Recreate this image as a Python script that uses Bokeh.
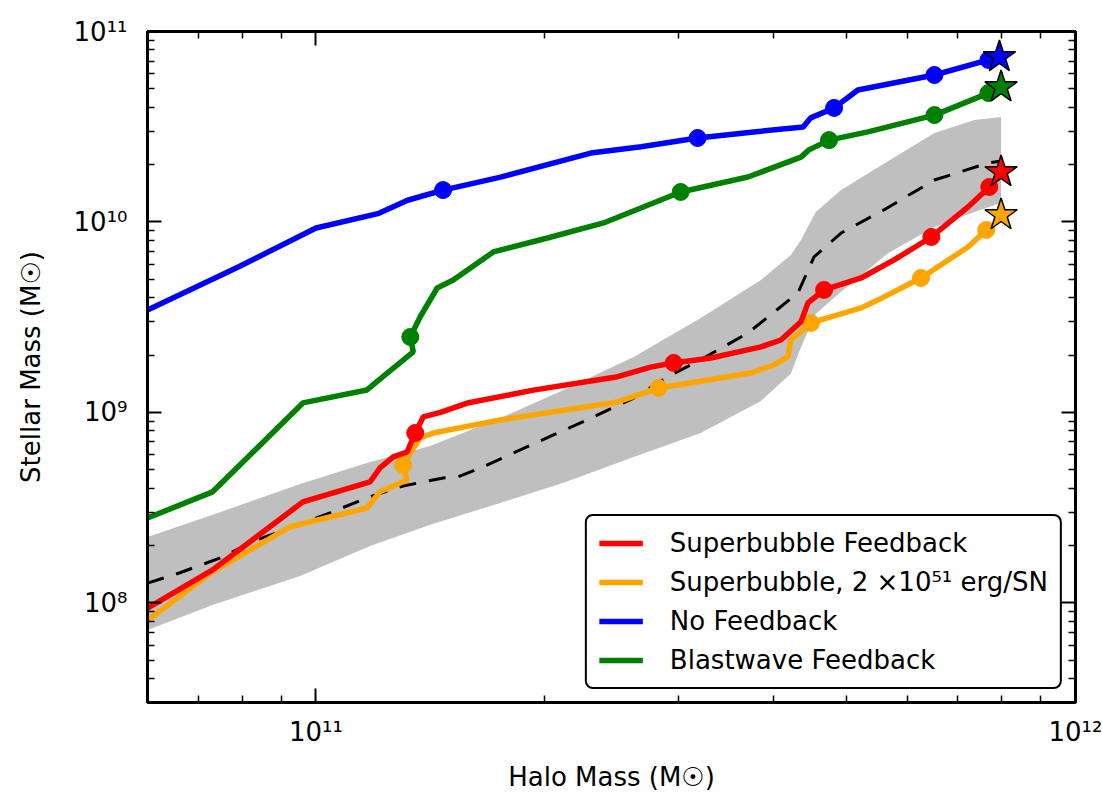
from bokeh.plotting import figure
from bokeh.models import Range1d, FixedTicker, LogAxis, Legend, LegendItem
from bokeh.embed import file_html
from bokeh.resources import INLINE

# ---------------- data ----------------
x_tick_values = [1e11, 1e12]
x_tick_labels = ["10\u00b9\u00b9", "10\u00b9\u00b2"]
y_tick_values = [1e8, 1e9, 1e10, 1e11]
y_tick_labels = ["10\u2078", "10\u2079", "10\u00b9\u2070", "10\u00b9\u00b9"]

halo_blue = [6.0e10, 7.9e10, 1.0e11, 1.21e11, 1.32e11, 1.47e11, 1.75e11, 2.3e11, 2.68e11,
             3.18e11, 3.77e11, 4.38e11, 4.48e11, 4.81e11, 5.17e11, 6.52e11, 7.68e11]
stellar_blue = [3.45e9, 5.8e9, 9.3e9, 1.11e10, 1.3e10, 1.47e10, 1.72e10, 2.3e10, 2.48e10,
                2.76e10, 2.97e10, 3.15e10, 3.52e10, 3.97e10, 4.93e10, 5.91e10, 7.09e10]
marks_blue = [5, 9, 13, 15, 16]
star_blue = (7.94e11, 7.35e10)

halo_green = [6.0e10, 7.31e10, 9.61e10, 1.167e11, 1.241e11, 1.343e11, 1.331e11, 1.371e11,
              1.444e11, 1.516e11, 1.712e11, 2.017e11, 2.391e11, 3.021e11, 3.704e11, 4.35e11,
              4.457e11, 4.737e11, 5.33e11, 6.52e11, 7.68e11]
stellar_green = [2.79e8, 3.83e8, 1.122e9, 1.312e9, 1.61e9, 2.08e9, 2.49e9, 3.17e9, 4.5e9,
                 4.96e9, 6.96e9, 8.24e9, 9.88e9, 1.437e10, 1.722e10, 2.19e10, 2.39e10,
                 2.69e10, 2.97e10, 3.64e10, 4.75e10]
marks_green = [6, 13, 17, 19, 20]
star_green = (7.98e11, 5.11e10)

halo_red = [6.0e10, 7.31e10, 9.61e10, 1.178e11, 1.214e11, 1.264e11, 1.318e11, 1.351e11,
            1.384e11, 1.458e11, 1.582e11, 1.933e11, 2.496e11, 2.758e11, 2.958e11, 3.31e11,
            3.853e11, 4.094e11, 4.35e11, 4.444e11, 4.666e11, 5.22e11, 5.77e11, 6.46e11,
            7.22e11, 7.70e11]
stellar_red = [9.4e7, 1.49e8, 3.39e8, 4.32e8, 5.11e8, 5.84e8, 6.2e8, 7.8e8, 9.47e8, 1.0e9,
               1.12e9, 1.31e9, 1.54e9, 1.73e9, 1.82e9, 1.93e9, 2.21e9, 2.40e9, 2.99e9,
               3.76e9, 4.40e9, 5.08e9, 6.32e9, 8.34e9, 1.2e10, 1.527e10]
marks_red = [7, 14, 20, 23, 25]
star_red = (7.98e11, 1.83e10)

halo_orange = [6.0e10, 7.31e10, 9.24e10, 1.167e11, 1.214e11, 1.318e11, 1.302e11, 1.331e11,
               1.371e11, 1.427e11, 1.749e11, 2.496e11, 2.826e11, 3.738e11, 4.007e11,
               4.181e11, 4.22e11, 4.484e11, 5.22e11, 5.5e11, 6.26e11, 7.22e11, 7.63e11]
stellar_orange = [8.1e7, 1.46e8, 2.51e8, 3.15e8, 3.83e8, 4.42e8, 5.3e8, 6.13e8, 7.35e8,
                  7.8e8, 9.14e8, 1.135e9, 1.345e9, 1.61e9, 1.775e9, 1.955e9, 2.40e9,
                  2.95e9, 3.54e9, 3.9e9, 5.08e9, 7.39e9, 9.08e9]
marks_orange = [6, 12, 17, 20, 22]
star_orange = (7.98e11, 1.088e10)

halo_median = [6.0e10, 6.62e10, 7.47e10, 8.36e10, 1.043e11, 1.167e11, 1.302e11, 1.471e11,
               1.535e11, 1.646e11, 2.054e11, 2.32e11, 2.62e11, 2.904e11, 3.21e11, 3.704e11,
               3.936e11, 4.31e11, 4.526e11, 4.913e11, 5.6e11, 6.52e11, 7.68e11, 7.98e11]
stellar_median = [1.27e8, 1.44e8, 1.72e8, 2.14e8, 2.97e8, 3.56e8, 4.11e8, 4.53e8, 4.58e8,
                  5.11e8, 7.62e8, 9.47e8, 1.19e9, 1.54e9, 1.89e9, 2.61e9, 3.17e9, 4.24e9,
                  6.55e9, 8.75e9, 1.16e10, 1.66e10, 2.04e10, 2.09e10]

halo_band = [6.0e10, 7.31e10, 9.53e10, 1.178e11, 1.414e11, 1.749e11, 2.118e11, 2.62e11,
             3.21e11, 3.853e11, 4.22e11, 4.35e11, 4.55e11, 4.913e11, 5.67e11, 6.52e11,
             7.36e11, 7.98e11]
band_upper = [2.22e8, 2.90e8, 4.21e8, 5.5e8, 6.67e8, 9.35e8, 1.31e9, 1.955e9, 3.13e9,
              4.96e9, 6.71e9, 8.04e9, 1.129e10, 1.472e10, 2.09e10, 2.93e10, 3.43e10, 3.56e10]
band_lower = [7.21e7, 9.76e7, 1.386e8, 1.99e8, 2.57e8, 3.35e8, 4.27e8, 5.84e8, 7.8e8,
              1.15e9, 1.6e9, 2.2e9, 3.3e9, 4.3e9, 6.88e9, 9.41e9, 1.129e10, 1.26e10]

labels = ["Superbubble Feedback", "Superbubble, 2 \u00d710\u2075\u00b9 erg/SN",
          "No Feedback", "Blastwave Feedback"]

# ---------------- figure ----------------
FONT = "DejaVu Sans"
p = figure(width=1102, height=795, x_axis_type="log", y_axis_type="log",
           x_range=Range1d(6e10, 1e12), y_range=Range1d(3e7, 1e11),
           output_backend="svg", toolbar_location=None,
           min_border_left=147, min_border_right=27, min_border_top=31,
           min_border_bottom=93)
p.background_fill_color = "white"
p.border_fill_color = "white"
p.outline_line_color = "black"
p.outline_line_width = 3
p.xgrid.visible = False
p.ygrid.visible = False

x_minor = [m * 10.0 ** e for e in range(10, 12) for m in range(2, 10)]
y_minor = [m * 10.0 ** e for e in range(7, 11) for m in range(2, 10)]
xt = FixedTicker(ticks=x_tick_values, minor_ticks=x_minor)
yt = FixedTicker(ticks=y_tick_values, minor_ticks=y_minor)


def style(ax, ticker, show):
    ax.ticker = ticker
    ax.axis_line_color = "black"
    ax.axis_line_width = 3
    ax.major_tick_in = 14
    ax.major_tick_out = 0
    ax.minor_tick_in = 7
    ax.minor_tick_out = 0
    ax.major_tick_line_width = 2
    ax.minor_tick_line_width = 1.5
    ax.major_tick_line_color = "black"
    ax.minor_tick_line_color = "black"
    if show:
        ax.major_label_text_font = FONT
        ax.major_label_text_font_size = "26px"
        ax.major_label_text_color = "black"
        ax.axis_label_text_font = FONT
        ax.axis_label_text_font_size = "26px"
        ax.axis_label_text_font_style = "normal"
        ax.axis_label_text_color = "black"
    else:
        ax.major_label_text_font_size = "0px"
        ax.major_label_text_alpha = 0


xa = p.xaxis[0]
ya = p.yaxis[0]
style(xa, xt, True)
style(ya, yt, True)
xa.major_label_overrides = dict(zip(x_tick_values, x_tick_labels))
ya.major_label_overrides = dict(zip(y_tick_values, y_tick_labels))
xa.axis_label = "Halo Mass (M\u2609)"
ya.axis_label = "Stellar Mass (M\u2609)"
xa.major_label_standoff = 14
ya.major_label_standoff = 20
xa.axis_label_standoff = 12
ya.axis_label_standoff = 25

top = LogAxis()
right = LogAxis()
style(top, xt, False)
style(right, yt, False)
p.add_layout(top, "above")
p.add_layout(right, "right")

# ---------------- glyphs ----------------
p.varea(x=halo_band, y1=band_lower, y2=band_upper, fill_color="#bfbfbf", fill_alpha=1.0)
p.line(halo_median, stellar_median, line_color="black", line_width=3, line_dash="17 13")

series = [
    (halo_green, stellar_green, marks_green, star_green, "green"),
    (halo_blue, stellar_blue, marks_blue, star_blue, "blue"),
    (halo_orange, stellar_orange, marks_orange, star_orange, "orange"),
    (halo_red, stellar_red, marks_red, star_red, "red"),
]
renderers = {}
for hx, sy, mk, st, col in series:
    r = p.line(hx, sy, line_color=col, line_width=5.5)
    renderers[col] = r
    p.scatter([hx[i] for i in mk], [sy[i] for i in mk], marker="circle", size=17,
              fill_color=col, line_color=col)
for hx, sy, mk, st, col in series:
    p.scatter([st[0]], [st[1]], marker="star", size=34, fill_color=col,
              line_color="black", line_width=1.5)

items = [LegendItem(label=labels[0], renderers=[renderers["red"]]),
         LegendItem(label=labels[1], renderers=[renderers["orange"]]),
         LegendItem(label=labels[2], renderers=[renderers["blue"]]),
         LegendItem(label=labels[3], renderers=[renderers["green"]])]
legend = Legend(items=items, location="bottom_right", margin=13, padding=12,
                spacing=9, glyph_width=44, glyph_height=28, label_height=28,
                label_standoff=27, label_text_font=FONT, label_text_font_size="26px",
                label_text_color="black", border_line_color="black",
                border_line_alpha=1.0, border_line_width=2.5,
                background_fill_color="white", background_fill_alpha=1.0)
if "border_radius" in Legend.properties():
    legend.border_radius = 8
p.add_layout(legend)

open("out.html", "w").write(file_html(p, INLINE))
